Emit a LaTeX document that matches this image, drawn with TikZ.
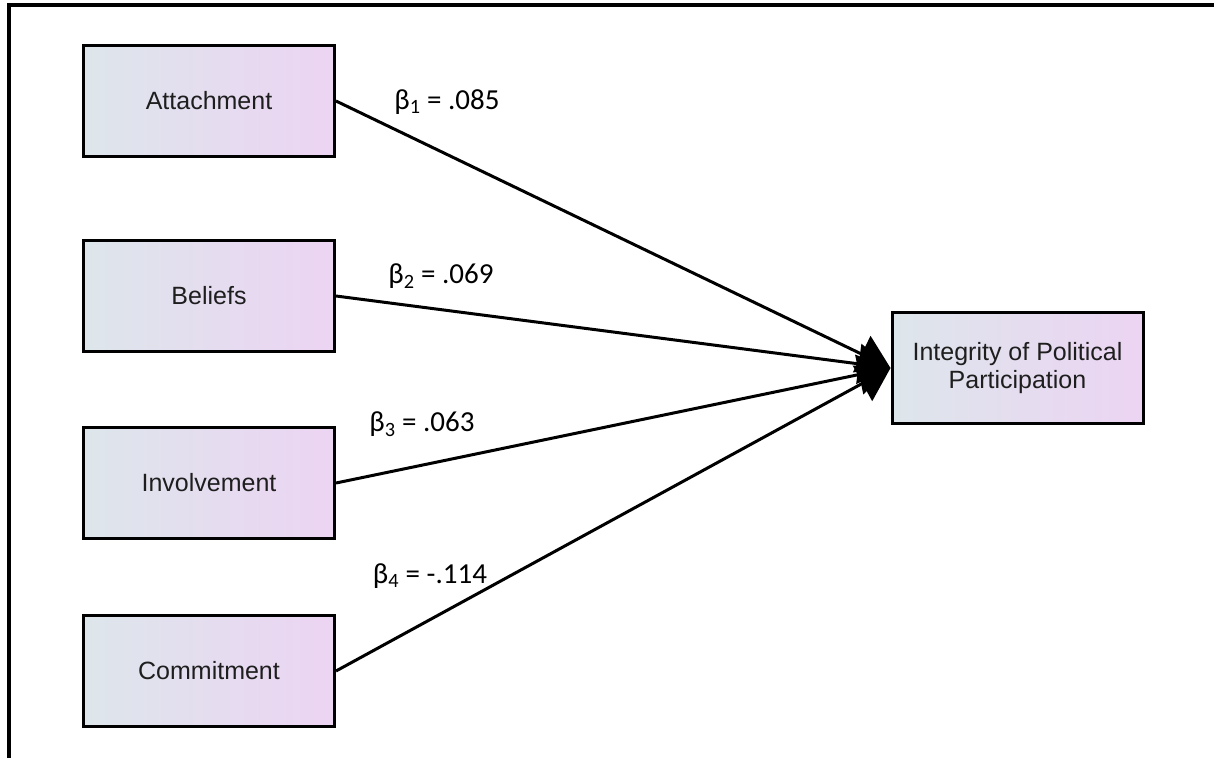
\documentclass[tikz,border=0pt]{standalone}
\usepackage{fontspec}
\setmainfont{Liberation Sans}
\newfontfamily\labfont{Carlito}
\usetikzlibrary{arrows.meta}
\definecolor{boxleft}{RGB}{221,230,235}
\definecolor{boxright}{RGB}{236,212,243}
\definecolor{boxtext}{RGB}{30,30,30}
\tikzset{
  varbox/.style={rectangle, draw=black, line width=3pt, left color=boxleft, right color=boxright,
    minimum width=251pt, minimum height=111pt, inner sep=0pt, text=boxtext,
    font=\fontsize{25}{28}\selectfont, align=center},
  conn/.style={line width=3pt, -{Triangle[length=32pt,width=40pt]}},
  coef/.style={font=\labfont\fontsize{29}{32}\selectfont, inner sep=0pt},
  frame/.style={line width=3.6pt}
}
\begin{document}
\begin{tikzpicture}[x=1pt,y=-1pt]
\useasboundingbox (0,0) rectangle (1214,758);
\fill[white] (0,0) rectangle (1214,758);
\draw[frame] (9,758) -- (9,5) -- (1214,5);
\node[varbox] (att) at (209,101) {Attachment};
\node[varbox] (bel) at (209,296) {Beliefs};
\node[varbox] (inv) at (209,483) {Involvement};
\node[varbox] (com) at (209,671) {Commitment};
\node[varbox] (ipp) at (1017.5,368) {Integrity of Political\\Participation};
\draw[conn] (att.east) -- (ipp.west);
\draw[conn] (bel.east) -- (ipp.west);
\draw[conn] (inv.east) -- (ipp.west);
\draw[conn] (com.east) -- (ipp.west);
\node[coef] (b1) at (447,102) {β\textsubscript{1} = .085};
\node[coef] (b2) at (441,276) {β\textsubscript{2} = .069};
\node[coef] (b3) at (422,424) {β\textsubscript{3} = .063};
\node[coef] (b4) at (430,576) {β\textsubscript{4} = -.114};
\end{tikzpicture}
\end{document}
